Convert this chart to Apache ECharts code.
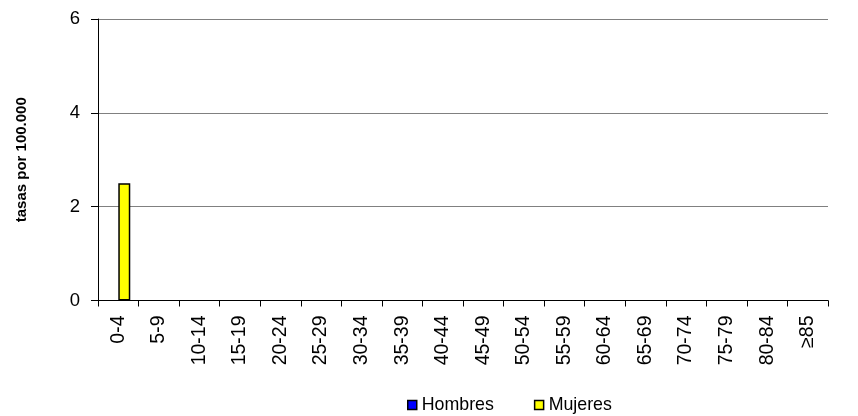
<!DOCTYPE html>
<html>
<head>
<meta charset="utf-8">
<script src="https://cdn.jsdelivr.net/npm/echarts@6/dist/echarts.min.js"></script>
<style>
  html, body { margin: 0; padding: 0; background: #fff; }
  #chart { width: 858px; height: 416px; }
</style>
</head>
<body>
<div id="chart"></div>
<script>
// grupos de edad
const categories = ['0-4', '5-9', '10-14', '15-19', '20-24', '25-29', '30-34', '35-39', '40-44',
  '45-49', '50-54', '55-59', '60-64', '65-69', '70-74', '75-79', '80-84', '≥85']
// tasas por 100.000
const hombres = [0, 0, 0, 0, 0, 0, 0, 0, 0, 0, 0, 0, 0, 0, 0, 0, 0, 0]
const mujeres = [2.5, 0, 0, 0, 0, 0, 0, 0, 0, 0, 0, 0, 0, 0, 0, 0, 0, 0]
const yTicks = [0, 2, 4, 6]

// las barras en cero no llevan borde (como en el original)
const toItems = (arr, w) => arr.map(v => ({ value: v, itemStyle: { borderWidth: v > 0 ? w : 0 } }))

const chart = echarts.init(document.getElementById('chart'))
const font = 'Liberation Sans, Arial, sans-serif'
chart.setOption({
  animation: false,
  textStyle: { fontFamily: font, color: '#000' },
  grid: { left: 98, right: 30, top: 19, bottom: 115.5, containLabel: false },
  legend: {
    top: 391,
    left: 402,
    itemWidth: 9,
    itemHeight: 9,
    itemGap: 40,
    icon: 'rect',
    textStyle: { fontSize: 17.8, fontFamily: font, color: '#000', padding: [0, 0, 0, 0] },
    data: [
      { name: 'Hombres', itemStyle: { color: '#0000ff', borderColor: '#000', borderWidth: 1.5 } },
      { name: 'Mujeres', itemStyle: { color: '#ffff00', borderColor: '#000', borderWidth: 1.5 } }
    ]
  },
  xAxis: {
    type: 'category',
    data: categories,
    axisLine: { lineStyle: { color: '#000', width: 1 } },
    axisTick: { show: true, alignWithLabel: false, length: 6, lineStyle: { color: '#000' } },
    axisLabel: { rotate: 90, fontSize: 19.5, margin: 15, color: '#000', interval: 0 }
  },
  yAxis: {
    type: 'value',
    min: yTicks[0],
    max: yTicks[yTicks.length - 1],
    interval: 2,
    name: 'tasas por 100.000',
    nameLocation: 'middle',
    nameGap: 69,
    nameTextStyle: { fontWeight: 'bold', fontSize: 15, color: '#000' },
    axisLine: { show: true, lineStyle: { color: '#000' } },
    axisTick: { show: true, length: 7, lineStyle: { color: '#000' } },
    axisLabel: { fontSize: 18.5, margin: 18, color: '#000' },
    splitLine: { lineStyle: { color: '#808080', width: 1 } }
  },
  series: [
    {
      name: 'Hombres',
      type: 'bar',
      data: toItems(hombres, 1.5),
      barWidth: 12,
      barGap: '0%',
      itemStyle: { color: '#0000ff', borderColor: '#000' }
    },
    {
      name: 'Mujeres',
      type: 'bar',
      data: toItems(mujeres, 1.5),
      barWidth: 12,
      barGap: '0%',
      itemStyle: { color: '#ffff00', borderColor: '#000' }
    }
  ]
})
</script>
</body>
</html>
